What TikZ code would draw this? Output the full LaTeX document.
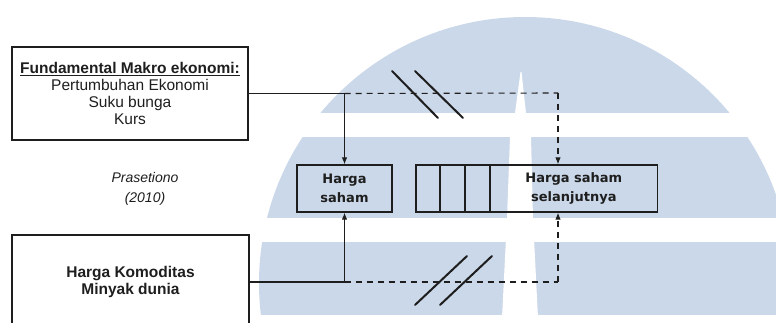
\documentclass[tikz,border=0pt]{standalone}
\usepackage{fontspec}
\setmainfont{Liberation Sans}
\newfontfamily\labelfont{DejaVu Sans}
\usetikzlibrary{arrows.meta}
\definecolor{wmblue}{RGB}{203,216,233}
\definecolor{ink}{RGB}{30,30,30}

\begin{document}
\begin{tikzpicture}[x=1pt,y=-1pt,
  box/.style={draw=ink, line width=1.2pt, rectangle, inner sep=0pt, align=center, text=ink},
  cell/.style={draw=ink, line width=1.1pt, rectangle, inner sep=0pt, minimum width=23.67pt, minimum height=47pt},
  link/.style={draw=ink, line width=1.1pt},
  dlink/.style={link, dash pattern=on 6pt off 5pt},
  tip/.style={-{Latex[length=7pt,width=5.5pt]}},
  slash/.style={draw=ink, line width=2pt, line cap=round},
  bigtext/.style={font=\fontsize{15.5}{17}\selectfont},
  smalltext/.style={font=\labelfont\bfseries\fontsize{13}{18.5}\selectfont},
]
\useasboundingbox (0,0) rectangle (776,323);
\clip (0,0) rectangle (776,323);

% striped round emblem in the background
\begin{scope}
  \clip (525,283) circle[radius=266pt];
  \fill[wmblue] (0,17) rectangle (776,113);
  \fill[wmblue] (0,137) rectangle (776,218);
  \fill[wmblue] (0,242) rectangle (776,315);
\end{scope}
\fill[white] (520.5,72) -- (515,113) -- (510,137) -- (507,218) -- (502,318)
  -- (538,318) -- (533,218) -- (531,137) -- (526,113) -- (521.5,72) -- cycle;

% boxes
\node[box, bigtext, minimum width=236pt, minimum height=93pt] (fund) at (130,93.5)
  {\underline{\textbf{Fundamental Makro ekonomi:}}\\Pertumbuhan Ekonomi\\Suku bunga\\Kurs};
\node[box, bigtext, minimum width=237pt, minimum height=94pt] (komod) at (130.5,282)
  {\textbf{Harga Komoditas}\\\textbf{Minyak dunia}};
\node[box, smalltext, minimum width=95pt, minimum height=47pt] (hs) at (344.5,188.5)
  {Harga\\saham};
\node[cell] (c1) at (427.8,188.5) {};
\node[cell, anchor=west] (c2) at (c1.east) {};
\node[cell, anchor=west] (c3) at (c2.east) {};
\node[box, smalltext, anchor=west, minimum width=167pt, minimum height=47pt] (sel) at (c3.east)
  {Harga saham\\selanjutnya};

\node[bigtext, font=\fontsize{14}{20}\selectfont\itshape, text=ink, align=center] (ref) at (145,189)
  {Prasetiono\\(2010)};

% connectors
\coordinate (jt) at (hs.north |- fund.east);
\coordinate (jb) at (hs.south |- komod.east);
\coordinate (ct) at (558,93);
\coordinate (cb) at (558,282);

\draw[link] (fund.east) -- (jt);
\draw[link, tip] (jt) -- (hs.north);
\draw[dlink] (jt) -- (ct);
\draw[dlink, tip] (ct) -- (sel.north -| ct);

\draw[link] (komod.east) -- (jb);
\draw[link, tip] (jb) -- (hs.south);
\draw[dlink] (jb) -- (cb);
\draw[dlink, tip] (cb) -- (sel.south -| cb);

% break marks
\draw[slash] (392,71) -- (438,118);
\draw[slash] (415,71) -- (463,118);
\draw[slash] (415,305) -- (467,256);
\draw[slash] (440,305) -- (492,256);
\end{tikzpicture}
\end{document}
